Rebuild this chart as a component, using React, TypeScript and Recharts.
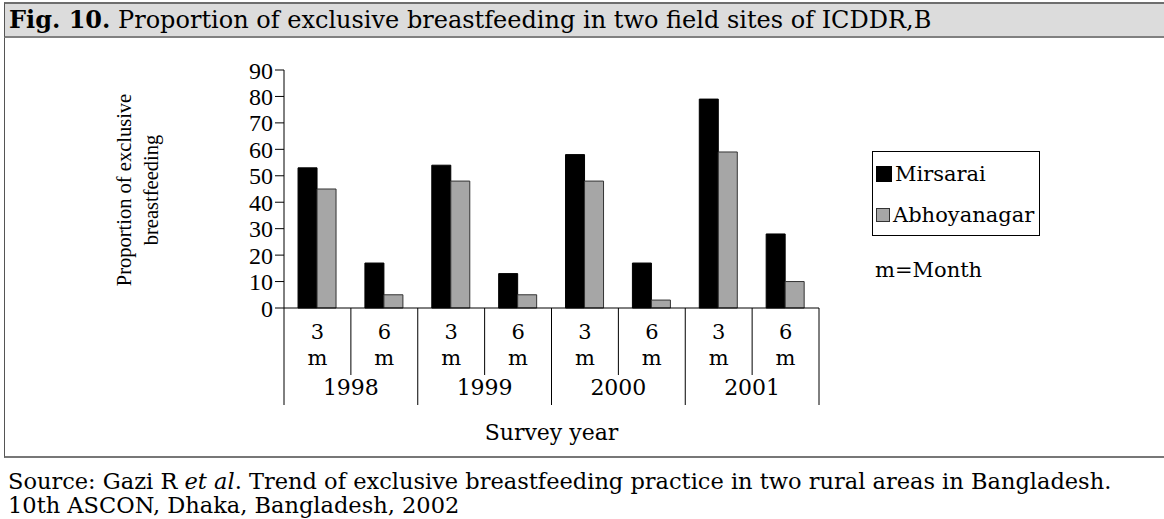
import React from 'react';
import { BarChart, Bar, XAxis, YAxis, Legend } from 'recharts';

const months = ['3', '6', '3', '6', '3', '6', '3', '6'];
const years = ['1998', '1998', '1999', '1999', '2000', '2000', '2001', '2001'];
const mirsarai = [53, 17, 54, 13, 58, 17, 79, 28];
const abhoyanagar = [45, 5, 48, 5, 48, 3, 59, 10];
const yTicks = [0, 10, 20, 30, 40, 50, 60, 70, 80, 90];

const data = months.map((m, i) => ({
  key: `${years[i]}-${m}`,
  month: m,
  year: years[i],
  Mirsarai: mirsarai[i],
  Abhoyanagar: abhoyanagar[i],
}));

const FONT = '"DejaVu Serif", "Liberation Serif", serif';
const NARROW = '"Liberation Serif", "Times New Roman", serif';
const W = 1164;
const H = 519;
const PLOT_LEFT = 284;
const PLOT_RIGHT = 819;
const PLOT_TOP = 70;
const PLOT_BOTTOM = 308;
const BAND = (PLOT_RIGHT - PLOT_LEFT) / months.length;

// two-row category labels (month + year) with the cell dividers
const MonthTick = (props: any) => {
  const { x, y, payload, index } = props;
  const half = payload && payload.offset ? payload.offset : BAND / 2;
  const left = x - half;
  const yearStart = index % 2 === 0;
  return (
    <g fontFamily={FONT} fontSize={21} fill="#000">
      <line x1={left} y1={y} x2={left} y2={y + (yearStart ? 97 : 67)} stroke="#000" strokeWidth={1} />
      {index === months.length - 1 && (
        <line x1={x + half} y1={y} x2={x + half} y2={y + 97} stroke="#000" strokeWidth={1} />
      )}
      <text x={x} y={y + 31} textAnchor="middle">{months[index]}</text>
      <text x={x} y={y + 57} textAnchor="middle">m</text>
      {!yearStart && (
        <text x={left} y={y + 87} textAnchor="middle" fontSize={22}>{years[index]}</text>
      )}
    </g>
  );
};

const YLabel = () => (
  <g fontFamily={NARROW} fontSize={20.5} fill="#000">
    <text x={131} y={190} textAnchor="middle" transform="rotate(-90 131 190)">Proportion of exclusive</text>
    <text x={158} y={190} textAnchor="middle" transform="rotate(-90 158 190)">breastfeeding</text>
  </g>
);

const XLabel = () => (
  <text x={(PLOT_LEFT + PLOT_RIGHT) / 2} y={440} textAnchor="middle" fontFamily={FONT} fontSize={22} fill="#000">
    Survey year
  </text>
);

const LegendBox = () => (
  <div style={{ fontFamily: FONT, fontSize: 21, color: '#000' }}>
    <div style={{ border: '1px solid #000', width: 168, height: 85, boxSizing: 'border-box', padding: '1px 0 0 3px' }}>
      <div style={{ display: 'flex', alignItems: 'center', height: 41 }}>
        <span style={{ display: 'inline-block', width: 14, height: 14, background: '#000', border: '1px solid #000', marginRight: 3 }} />
        Mirsarai
      </div>
      <div style={{ display: 'flex', alignItems: 'center', height: 41 }}>
        <span style={{ display: 'inline-block', width: 14, height: 14, background: '#a6a6a6', border: '1px solid #333', boxSizing: 'border-box', marginRight: 3 }} />
        Abhoyanagar
      </div>
    </div>
    <div style={{ marginTop: 22, paddingLeft: 3 }}>m=Month</div>
  </div>
);

export default function App() {
  return (
    <div style={{ position: 'absolute', left: 0, top: 0, width: W, height: H, background: '#fff', fontFamily: FONT }}>
      <div
        style={{
          position: 'absolute', left: 4, top: 2, width: W - 4, height: 36,
          background: '#dcdcdc', borderTop: '2px solid #6e6e6e', borderBottom: '2px solid #808080',
          borderLeft: '1px solid #555', boxSizing: 'border-box',
          fontSize: 24, lineHeight: '32px', paddingLeft: 4, color: '#000', whiteSpace: 'nowrap',
        }}
      >
        <b>Fig. 10.</b> Proportion of exclusive breastfeeding in two field sites of ICDDR,B
      </div>
      <div
        style={{
          position: 'absolute', left: 4, top: 38, width: W - 4, height: 420,
          borderLeft: '1px solid #555', borderBottom: '2px solid #777', boxSizing: 'border-box',
        }}
      />
      <BarChart
        width={W}
        height={H}
        data={data}
        margin={{ top: PLOT_TOP, right: W - PLOT_RIGHT, left: PLOT_LEFT - 60, bottom: H - PLOT_BOTTOM - 110 }}
        barGap={0}
        barCategoryGap="21%"
        style={{ position: 'absolute', left: 0, top: 0 }}
      >
        <XAxis
          dataKey="key"
          interval={0}
          height={110}
          axisLine={{ stroke: '#000', strokeWidth: 1 }}
          tickLine={false}
          tickSize={0}
          tickMargin={0}
          tick={<MonthTick />}
          label={<XLabel />}
        />
        <XAxis xAxisId="top" dataKey="key" orientation="top" height={0} tick={false} tickLine={false} axisLine={{ stroke: '#888' }} />
        <YAxis
          domain={[0, 90]}
          ticks={yTicks}
          interval={0}
          width={60}
          tickSize={9}
          tickLine={{ stroke: '#000' }}
          axisLine={{ stroke: '#000' }}
          tick={{ fontFamily: NARROW, fontSize: 24, fill: '#000' }}
          tickMargin={2}
          label={<YLabel />}
        />
        <YAxis yAxisId="right" orientation="right" domain={[0, 90]} width={0} tick={false} tickLine={false} axisLine={{ stroke: '#aaa' }} />
        <Legend
          layout="vertical"
          align="center"
          verticalAlign="middle"
          content={<LegendBox />}
          wrapperStyle={{ left: 872, top: 151, width: 200, bottom: 'auto', right: 'auto' }}
        />
        <Bar dataKey="Mirsarai" fill="#000" stroke="#000" strokeWidth={1} isAnimationActive={false} />
        <Bar dataKey="Abhoyanagar" fill="#a6a6a6" stroke="#333" strokeWidth={1} isAnimationActive={false} />
      </BarChart>
      <div style={{ position: 'absolute', left: 8, top: 469, fontSize: 22.5, lineHeight: '24px', color: '#000', whiteSpace: 'nowrap' }}>
        Source: Gazi R <i>et al</i>. Trend of exclusive breastfeeding practice in two rural areas in Bangladesh.
        <br />
        10th ASCON, Dhaka, Bangladesh, 2002
      </div>
    </div>
  );
}
